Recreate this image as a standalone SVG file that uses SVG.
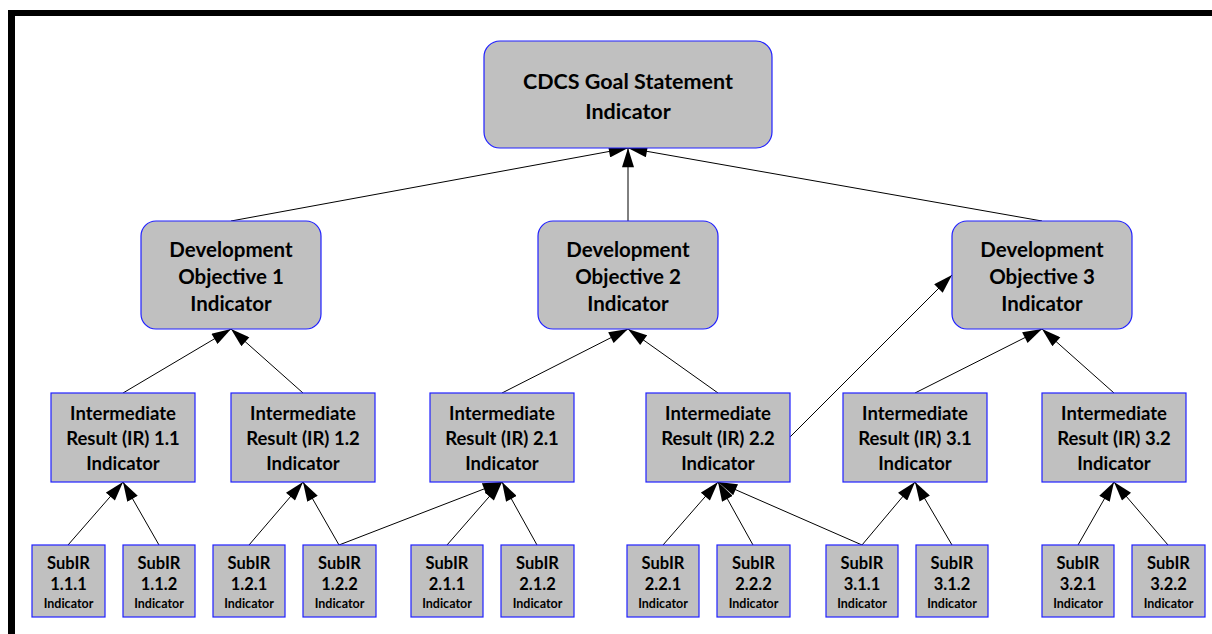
<svg xmlns="http://www.w3.org/2000/svg" width="1212" height="634" viewBox="0 0 1212 634">
<style>
.box{fill:#c0c0c0;stroke:#2020ff;stroke-width:1.2}
.t{font-family:Lato,"Open Sans",sans-serif;font-weight:bold;fill:#000;text-anchor:middle}
.g{font-size:21.5px}
.d{font-size:20.5px}
.i{font-size:18.5px}
.s{font-size:16.5px}
.sm{font-size:12.5px}
.c{stroke:#000;stroke-width:1;fill:none;marker-end:url(#ah)}
</style>
<defs>
<marker id="ah" markerUnits="userSpaceOnUse" markerWidth="20" markerHeight="12" refX="16" refY="5" orient="auto" viewBox="0 0 16 10">
<path d="M0,0 L16,5 L0,10 Z" fill="#000"/>
</marker>
</defs>
<rect width="1212" height="634" fill="#fff"/>
<g id="frame">
<line x1="8" y1="13" x2="1212" y2="13" stroke="#000" stroke-width="6"/>
<line x1="11.5" y1="10" x2="11.5" y2="634" stroke="#000" stroke-width="7"/>
</g>
<g id="connectors">
<line class="c" x1="231" y1="221" x2="628" y2="148"/>
<line class="c" x1="628" y1="221" x2="628" y2="148"/>
<line class="c" x1="1042" y1="221" x2="628" y2="148"/>
<line class="c" x1="123" y1="393" x2="231" y2="329"/>
<line class="c" x1="303" y1="393" x2="231" y2="329"/>
<line class="c" x1="502" y1="393" x2="628" y2="329"/>
<line class="c" x1="718" y1="393" x2="628" y2="329"/>
<line class="c" x1="915" y1="393" x2="1042" y2="329"/>
<line class="c" x1="1114" y1="393" x2="1042" y2="329"/>
<line class="c" x1="790" y1="437" x2="952" y2="275"/>
<line class="c" x1="68" y1="545" x2="123" y2="482"/>
<line class="c" x1="159" y1="545" x2="123" y2="482"/>
<line class="c" x1="249" y1="545" x2="303" y2="482"/>
<line class="c" x1="339" y1="545" x2="303" y2="482"/>
<line class="c" x1="339" y1="545" x2="502" y2="482"/>
<line class="c" x1="447" y1="545" x2="502" y2="482"/>
<line class="c" x1="537" y1="545" x2="502" y2="482"/>
<line class="c" x1="663" y1="545" x2="718" y2="482"/>
<line class="c" x1="753" y1="545" x2="718" y2="482"/>
<line class="c" x1="862" y1="545" x2="718" y2="482"/>
<line class="c" x1="862" y1="545" x2="915" y2="482"/>
<line class="c" x1="952" y1="545" x2="915" y2="482"/>
<line class="c" x1="1078" y1="545" x2="1114" y2="482"/>
<line class="c" x1="1168" y1="545" x2="1114" y2="482"/>
</g>
<g id="goal">
<rect class="box" x="484" y="41" width="288" height="107" rx="16"/>
<text class="t g" x="628" y="89">CDCS Goal Statement</text>
<text class="t g" x="628" y="119">Indicator</text>
</g>
<g id="do1">
<rect class="box" x="141" y="221" width="180" height="108" rx="15"/>
<text class="t d" x="231" y="257">Development</text>
<text class="t d" x="231" y="284">Objective 1</text>
<text class="t d" x="231" y="311">Indicator</text>
</g>
<g id="do2">
<rect class="box" x="538" y="221" width="180" height="108" rx="15"/>
<text class="t d" x="628" y="257">Development</text>
<text class="t d" x="628" y="284">Objective 2</text>
<text class="t d" x="628" y="311">Indicator</text>
</g>
<g id="do3">
<rect class="box" x="952" y="221" width="180" height="108" rx="15"/>
<text class="t d" x="1042" y="257">Development</text>
<text class="t d" x="1042" y="284">Objective 3</text>
<text class="t d" x="1042" y="311">Indicator</text>
</g>
<g id="ir11">
<rect class="box" x="51" y="393" width="144" height="89"/>
<text class="t i" x="123" y="420">Intermediate</text>
<text class="t i" x="123" y="445">Result (IR) 1.1</text>
<text class="t i" x="123" y="470">Indicator</text>
</g>
<g id="ir12">
<rect class="box" x="231" y="393" width="144" height="89"/>
<text class="t i" x="303" y="420">Intermediate</text>
<text class="t i" x="303" y="445">Result (IR) 1.2</text>
<text class="t i" x="303" y="470">Indicator</text>
</g>
<g id="ir21">
<rect class="box" x="430" y="393" width="144" height="89"/>
<text class="t i" x="502" y="420">Intermediate</text>
<text class="t i" x="502" y="445">Result (IR) 2.1</text>
<text class="t i" x="502" y="470">Indicator</text>
</g>
<g id="ir22">
<rect class="box" x="646" y="393" width="144" height="89"/>
<text class="t i" x="718" y="420">Intermediate</text>
<text class="t i" x="718" y="445">Result (IR) 2.2</text>
<text class="t i" x="718" y="470">Indicator</text>
</g>
<g id="ir31">
<rect class="box" x="843" y="393" width="144" height="89"/>
<text class="t i" x="915" y="420">Intermediate</text>
<text class="t i" x="915" y="445">Result (IR) 3.1</text>
<text class="t i" x="915" y="470">Indicator</text>
</g>
<g id="ir32">
<rect class="box" x="1042" y="393" width="144" height="89"/>
<text class="t i" x="1114" y="420">Intermediate</text>
<text class="t i" x="1114" y="445">Result (IR) 3.2</text>
<text class="t i" x="1114" y="470">Indicator</text>
</g>
<g id="s111"><rect class="box" x="32" y="545" width="73" height="72"/><text class="t s" x="68.5" y="569">SubIR</text><text class="t s" x="68.5" y="590">1.1.1</text><text class="t sm" x="68.5" y="608">Indicator</text></g>
<g id="s112"><rect class="box" x="123" y="545" width="72" height="72"/><text class="t s" x="159" y="569">SubIR</text><text class="t s" x="159" y="590">1.1.2</text><text class="t sm" x="159" y="608">Indicator</text></g>
<g id="s121"><rect class="box" x="213" y="545" width="72" height="72"/><text class="t s" x="249" y="569">SubIR</text><text class="t s" x="249" y="590">1.2.1</text><text class="t sm" x="249" y="608">Indicator</text></g>
<g id="s122"><rect class="box" x="303" y="545" width="73" height="72"/><text class="t s" x="339.5" y="569">SubIR</text><text class="t s" x="339.5" y="590">1.2.2</text><text class="t sm" x="339.5" y="608">Indicator</text></g>
<g id="s211"><rect class="box" x="411" y="545" width="72" height="72"/><text class="t s" x="447" y="569">SubIR</text><text class="t s" x="447" y="590">2.1.1</text><text class="t sm" x="447" y="608">Indicator</text></g>
<g id="s212"><rect class="box" x="501" y="545" width="73" height="72"/><text class="t s" x="537.5" y="569">SubIR</text><text class="t s" x="537.5" y="590">2.1.2</text><text class="t sm" x="537.5" y="608">Indicator</text></g>
<g id="s221"><rect class="box" x="627" y="545" width="72" height="72"/><text class="t s" x="663" y="569">SubIR</text><text class="t s" x="663" y="590">2.2.1</text><text class="t sm" x="663" y="608">Indicator</text></g>
<g id="s222"><rect class="box" x="717" y="545" width="73" height="72"/><text class="t s" x="753.5" y="569">SubIR</text><text class="t s" x="753.5" y="590">2.2.2</text><text class="t sm" x="753.5" y="608">Indicator</text></g>
<g id="s311"><rect class="box" x="826" y="545" width="72" height="72"/><text class="t s" x="862" y="569">SubIR</text><text class="t s" x="862" y="590">3.1.1</text><text class="t sm" x="862" y="608">Indicator</text></g>
<g id="s312"><rect class="box" x="916" y="545" width="72" height="72"/><text class="t s" x="952" y="569">SubIR</text><text class="t s" x="952" y="590">3.1.2</text><text class="t sm" x="952" y="608">Indicator</text></g>
<g id="s321"><rect class="box" x="1042" y="545" width="72" height="72"/><text class="t s" x="1078" y="569">SubIR</text><text class="t s" x="1078" y="590">3.2.1</text><text class="t sm" x="1078" y="608">Indicator</text></g>
<g id="s322"><rect class="box" x="1132" y="545" width="73" height="72"/><text class="t s" x="1168.5" y="569">SubIR</text><text class="t s" x="1168.5" y="590">3.2.2</text><text class="t sm" x="1168.5" y="608">Indicator</text></g>
</svg>
